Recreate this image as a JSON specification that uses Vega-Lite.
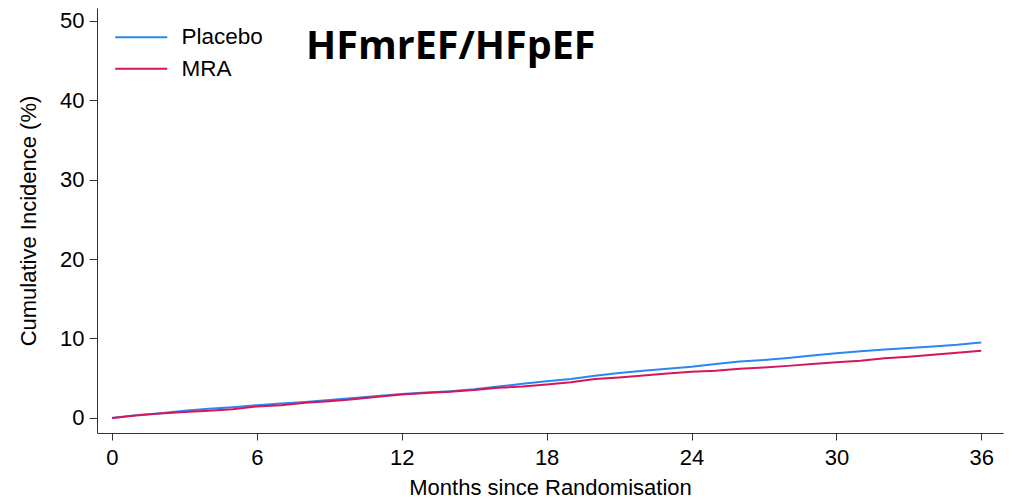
{
  "$schema": "https://vega.github.io/schema/vega-lite/v6.json",
  "width": 906,
  "height": 425,
  "autosize": {"type": "none"},
  "padding": {"left": 97, "top": 8, "right": 14, "bottom": 66},
  "background": "white",
  "config": {"view": {"stroke": null}, "font": "Liberation Sans"},
  "title": {
    "text": "HFmrEF/HFpEF",
    "font": "Open Sans",
    "fontSize": 39.5,
    "fontWeight": "bold",
    "color": "black",
    "anchor": "start",
    "frame": "group",
    "orient": "top",
    "offset": 0,
    "baseline": "middle",
    "dx": 209,
    "dy": 78
  },
  "data": {
    "values": [
      {"month": 0, "group": "Placebo", "inc": 0},
      {"month": 1, "group": "Placebo", "inc": 0.35},
      {"month": 2, "group": "Placebo", "inc": 0.6},
      {"month": 3, "group": "Placebo", "inc": 0.9},
      {"month": 4, "group": "Placebo", "inc": 1.15},
      {"month": 5, "group": "Placebo", "inc": 1.35},
      {"month": 6, "group": "Placebo", "inc": 1.6},
      {"month": 7, "group": "Placebo", "inc": 1.8},
      {"month": 8, "group": "Placebo", "inc": 2.0},
      {"month": 9, "group": "Placebo", "inc": 2.25},
      {"month": 10, "group": "Placebo", "inc": 2.5},
      {"month": 11, "group": "Placebo", "inc": 2.75},
      {"month": 12, "group": "Placebo", "inc": 3.0},
      {"month": 13, "group": "Placebo", "inc": 3.2},
      {"month": 14, "group": "Placebo", "inc": 3.35},
      {"month": 15, "group": "Placebo", "inc": 3.6},
      {"month": 16, "group": "Placebo", "inc": 3.95},
      {"month": 17, "group": "Placebo", "inc": 4.3},
      {"month": 18, "group": "Placebo", "inc": 4.6},
      {"month": 19, "group": "Placebo", "inc": 4.9},
      {"month": 20, "group": "Placebo", "inc": 5.3},
      {"month": 21, "group": "Placebo", "inc": 5.65},
      {"month": 22, "group": "Placebo", "inc": 5.95},
      {"month": 23, "group": "Placebo", "inc": 6.2},
      {"month": 24, "group": "Placebo", "inc": 6.45},
      {"month": 25, "group": "Placebo", "inc": 6.8},
      {"month": 26, "group": "Placebo", "inc": 7.1},
      {"month": 27, "group": "Placebo", "inc": 7.3},
      {"month": 28, "group": "Placebo", "inc": 7.55},
      {"month": 29, "group": "Placebo", "inc": 7.85},
      {"month": 30, "group": "Placebo", "inc": 8.15},
      {"month": 31, "group": "Placebo", "inc": 8.4},
      {"month": 32, "group": "Placebo", "inc": 8.6},
      {"month": 33, "group": "Placebo", "inc": 8.8},
      {"month": 34, "group": "Placebo", "inc": 9.0},
      {"month": 35, "group": "Placebo", "inc": 9.2},
      {"month": 36, "group": "Placebo", "inc": 9.5},
      {"month": 0, "group": "MRA", "inc": 0},
      {"month": 1, "group": "MRA", "inc": 0.3},
      {"month": 2, "group": "MRA", "inc": 0.55},
      {"month": 3, "group": "MRA", "inc": 0.75},
      {"month": 4, "group": "MRA", "inc": 0.9},
      {"month": 5, "group": "MRA", "inc": 1.1},
      {"month": 6, "group": "MRA", "inc": 1.45},
      {"month": 7, "group": "MRA", "inc": 1.6},
      {"month": 8, "group": "MRA", "inc": 1.9},
      {"month": 9, "group": "MRA", "inc": 2.1},
      {"month": 10, "group": "MRA", "inc": 2.35},
      {"month": 11, "group": "MRA", "inc": 2.65},
      {"month": 12, "group": "MRA", "inc": 2.95},
      {"month": 13, "group": "MRA", "inc": 3.15},
      {"month": 14, "group": "MRA", "inc": 3.3},
      {"month": 15, "group": "MRA", "inc": 3.5},
      {"month": 16, "group": "MRA", "inc": 3.8},
      {"month": 17, "group": "MRA", "inc": 3.95},
      {"month": 18, "group": "MRA", "inc": 4.2},
      {"month": 19, "group": "MRA", "inc": 4.5},
      {"month": 20, "group": "MRA", "inc": 4.9},
      {"month": 21, "group": "MRA", "inc": 5.1},
      {"month": 22, "group": "MRA", "inc": 5.35},
      {"month": 23, "group": "MRA", "inc": 5.6},
      {"month": 24, "group": "MRA", "inc": 5.8},
      {"month": 25, "group": "MRA", "inc": 5.95},
      {"month": 26, "group": "MRA", "inc": 6.2},
      {"month": 27, "group": "MRA", "inc": 6.35},
      {"month": 28, "group": "MRA", "inc": 6.55},
      {"month": 29, "group": "MRA", "inc": 6.8},
      {"month": 30, "group": "MRA", "inc": 7.0},
      {"month": 31, "group": "MRA", "inc": 7.2},
      {"month": 32, "group": "MRA", "inc": 7.5},
      {"month": 33, "group": "MRA", "inc": 7.7},
      {"month": 34, "group": "MRA", "inc": 7.95},
      {"month": 35, "group": "MRA", "inc": 8.2},
      {"month": 36, "group": "MRA", "inc": 8.45}
    ]
  },
  "mark": {"type": "line", "strokeWidth": 2, "interpolate": "linear"},
  "encoding": {
    "x": {
      "field": "month",
      "type": "quantitative",
      "scale": {"domain": [-0.62, 36.9], "nice": false, "zero": false},
      "axis": {
        "values": [0, 6, 12, 18, 24, 30, 36],
        "title": "Months since Randomisation",
        "grid": false,
        "domainColor": "#333333",
        "tickColor": "#333333",
        "tickSize": 7,
        "labelFontSize": 22,
        "labelColor": "black",
        "labelPadding": 7,
        "titleFontSize": 22,
        "titleFontWeight": "normal",
        "titleColor": "black",
        "titlePadding": 9
      }
    },
    "y": {
      "field": "inc",
      "type": "quantitative",
      "scale": {"domain": [-1.9, 51.6], "nice": false, "zero": false},
      "axis": {
        "values": [0, 10, 20, 30, 40, 50],
        "title": "Cumulative Incidence (%)",
        "grid": false,
        "domainColor": "#333333",
        "tickColor": "#333333",
        "tickSize": 8,
        "labelFontSize": 22,
        "labelColor": "black",
        "labelPadding": 5,
        "titleFontSize": 22,
        "titleFontWeight": "normal",
        "titleColor": "black",
        "titlePadding": 19
      }
    },
    "color": {
      "field": "group",
      "type": "nominal",
      "scale": {"domain": ["Placebo", "MRA"], "range": ["#2b86f0", "#d6155c"]},
      "legend": {
        "title": null,
        "orient": "none",
        "legendX": 33,
        "legendY": 18,
        "padding": 0,
        "symbolType": "M-5.2,0H5.2",
        "symbolSize": 100,
        "symbolStrokeWidth": 2,
        "labelFontSize": 22.5,
        "labelColor": "black",
        "labelOffset": 29,
        "rowPadding": 8.5
      }
    }
  }
}
